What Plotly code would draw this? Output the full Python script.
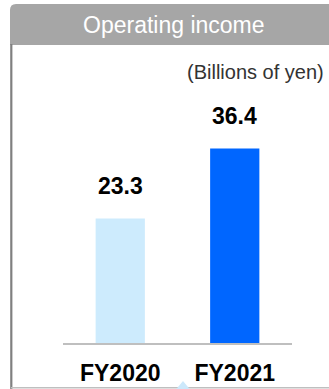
import plotly.graph_objects as go

# Operating income by fiscal year (billions of yen)
categories = ["FY2020", "FY2021"]
values = [23.3, 36.4]
bar_colors = ["#cdebfd", "#0066ff"]
title_text = "Operating income"
unit_text = "(Billions of yen)"

W, H = 329, 389
M_L, M_R, M_T, M_B = 63, 37, 100, 46
PLOT_W = W - M_L - M_R
PLOT_H = H - M_T - M_B
FONT = "Liberation Sans, Arial, sans-serif"


def px(x):
    """Horizontal pixel -> paper coordinate."""
    return (x - M_L) / PLOT_W


def py(y):
    """Vertical pixel (from top) -> paper coordinate."""
    return (H - M_B - y) / PLOT_H


fig = go.Figure(
    go.Bar(
        x=categories,
        y=values,
        marker=dict(color=bar_colors, line=dict(width=0)),
        width=0.43,
        hoverinfo="skip",
    )
)

# value labels above each bar
annotations = []
for cat, val in zip(categories, values):
    annotations.append(
        dict(
            x=cat, y=val, xref="x", yref="y",
            text=f"<b>{val:.1f}</b>",
            showarrow=False, yanchor="bottom", yshift=18,
            font=dict(family=FONT, size=23, color="#000000"),
        )
    )

# header title and unit note
annotations.append(
    dict(x=px(174), y=py(25), xref="paper", yref="paper",
         text=title_text, showarrow=False, xanchor="center", yanchor="middle",
         font=dict(family=FONT, size=23, color="#ffffff"))
)
annotations.append(
    dict(x=px(326), y=py(72), xref="paper", yref="paper",
         text=unit_text, showarrow=False, xanchor="right", yanchor="middle",
         font=dict(family=FONT, size=20, color="#333333"))
)

# header band with a rounded top-left corner
r = 6
x0, x1, y0, y1 = 10, 345, 4, 45
header_path = (
    f"M {px(x0)} {py(y1)} L {px(x0)} {py(y0 + r)} "
    f"Q {px(x0)} {py(y0)} {px(x0 + r)} {py(y0)} "
    f"L {px(x1)} {py(y0)} L {px(x1)} {py(y1)} Z"
)
tri_path = (
    f"M {px(175.5)} {py(390)} L {px(183)} {py(381)} L {px(190.5)} {py(390)} Z"
)

shapes = [
    dict(type="path", path=header_path, xref="paper", yref="paper",
         fillcolor="#a6a6a6", line=dict(width=0), layer="below"),
    # left frame edge
    dict(type="line", xref="paper", yref="paper",
         x0=px(11.3), x1=px(11.3), y0=py(44), y1=py(389),
         line=dict(color="#808080", width=2.2)),
    # bottom frame edge
    dict(type="line", xref="paper", yref="paper",
         x0=px(11), x1=px(340), y0=py(387.8), y1=py(387.8),
         line=dict(color="#bfbfbf", width=1.5)),
    # pointer triangle
    dict(type="path", path=tri_path, xref="paper", yref="paper",
         fillcolor="#cce8fb", line=dict(width=0)),
]

fig.update_layout(
    width=W, height=H,
    margin=dict(l=M_L, r=M_R, t=M_T, b=M_B, pad=0, autoexpand=False),
    paper_bgcolor="#ffffff", plot_bgcolor="#ffffff",
    showlegend=False,
    annotations=annotations,
    shapes=shapes,
    xaxis=dict(
        range=[-0.5, 1.5], showgrid=False, zeroline=False,
        showline=True, linecolor="#bfbfbf", linewidth=1.5,
        ticks="", tickfont=dict(family=FONT, size=23, color="#000000"),
        tickvals=categories, ticktext=[f"<b>{c}</b>" for c in categories],
        ticklabelstandoff=9, automargin=False,
        fixedrange=True,
    ),
    yaxis=dict(
        range=[0, 45.5], visible=False, showgrid=False, zeroline=False,
        fixedrange=True, automargin=False,
    ),
)

fig.write_html("out.html", config={"displayModeBar": False})
